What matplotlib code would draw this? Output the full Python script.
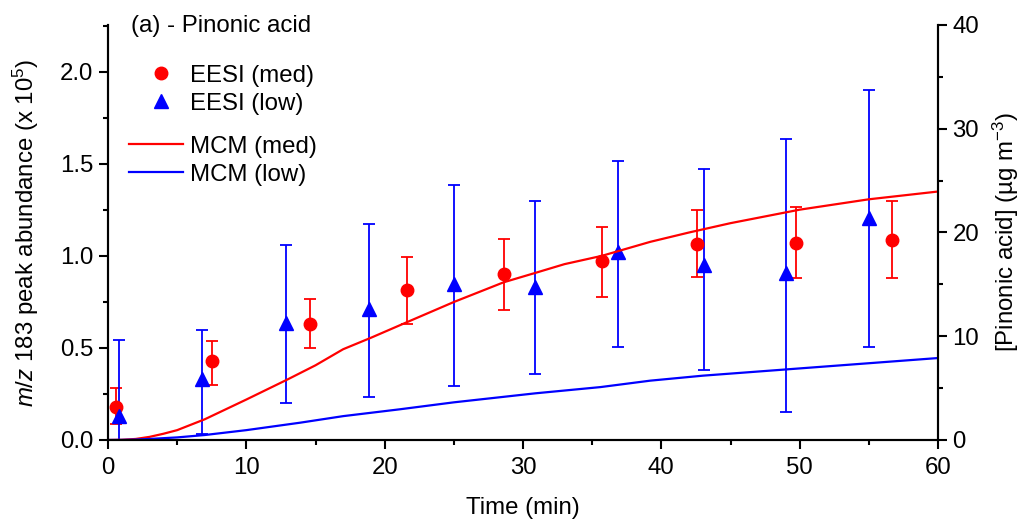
import matplotlib
matplotlib.use("Agg")
import matplotlib.pyplot as plt
from matplotlib.ticker import MultipleLocator, FormatStrFormatter
from matplotlib.lines import Line2D

plt.rcParams['font.family'] = ['Liberation Sans', 'DejaVu Sans']
plt.rcParams['mathtext.fontset'] = 'custom'
plt.rcParams['mathtext.rm'] = 'Liberation Sans'
plt.rcParams['mathtext.it'] = 'Liberation Sans:italic'

# EESI (med) - peak abundance (x 1e5)
med_t = [0.6, 7.5, 14.6, 21.6, 28.6, 35.7, 42.6, 49.7, 56.7]
med_y = [0.18, 0.43, 0.63, 0.815, 0.90, 0.97, 1.065, 1.07, 1.087]
med_hi = [0.28, 0.54, 0.765, 0.995, 1.09, 1.158, 1.25, 1.265, 1.30]
med_lo = [0.085, 0.30, 0.50, 0.632, 0.705, 0.777, 0.885, 0.88, 0.88]

# EESI (low)
low_t = [0.8, 6.8, 12.9, 18.9, 25.0, 30.9, 36.9, 43.1, 49.0, 55.0]
low_y = [0.13, 0.33, 0.635, 0.71, 0.85, 0.83, 1.02, 0.95, 0.905, 1.205]
low_hi = [0.545, 0.595, 1.06, 1.175, 1.385, 1.30, 1.518, 1.475, 1.636, 1.902]
low_lo = [0.0, 0.035, 0.20, 0.235, 0.295, 0.357, 0.505, 0.38, 0.15, 0.507]

# MCM model [Pinonic acid] (ug m-3)
mcm_t = [0, 1, 2, 3, 4, 5, 7, 10, 13, 15, 17, 18, 19, 21.6, 25, 28.6, 31, 33, 35.7, 39.2, 42, 45, 50, 55, 60]
mcm_med = [0, 0.02, 0.1, 0.3, 0.6, 0.95, 2.0, 3.9, 5.85, 7.2, 8.75, 9.3, 9.85, 11.35, 13.3, 15.2, 16.15,
           16.95, 17.75, 19.1, 20.0, 20.9, 22.2, 23.2, 23.95]
mcm_low_t = [0, 1, 2, 3, 5, 7, 10, 13.9, 17, 21.1, 25, 30.9, 35.6, 39.2, 43, 49, 55, 60]
mcm_low = [0, 0.01, 0.04, 0.1, 0.25, 0.48, 0.95, 1.67, 2.3, 2.96, 3.63, 4.5, 5.1, 5.72, 6.2, 6.8, 7.4, 7.9]

RED = '#ff0000'
BLUE = '#0000ff'
FS = 17.3

fig = plt.figure(figsize=(10.21, 5.20), dpi=100)
ax = fig.add_axes([108/1021, 80/520, 830/1021, 415/520])
ax2 = ax.twinx()

ax.errorbar(med_t, med_y,
            yerr=[[y - l for y, l in zip(med_y, med_lo)], [h - y for y, h in zip(med_y, med_hi)]],
            fmt='o', color=RED, ms=9, capsize=4, elinewidth=1.3, capthick=1.3, zorder=3)
ax.errorbar(low_t, low_y,
            yerr=[[y - l for y, l in zip(low_y, low_lo)], [h - y for y, h in zip(low_y, low_hi)]],
            fmt='^', color=BLUE, ms=10, capsize=4, elinewidth=1.3, capthick=1.3, zorder=3)

ax2.plot(mcm_t, mcm_med, color=RED, lw=1.6)
ax2.plot(mcm_low_t, mcm_low, color=BLUE, lw=1.6)

ax.set_xlim(0, 60)
ax.set_ylim(0, 2.255)
ax2.set_ylim(0, 40)

for a in (ax, ax2):
    a.spines['top'].set_visible(False)
    for s in a.spines.values():
        s.set_linewidth(1.5)
ax.xaxis.set_major_locator(MultipleLocator(10))
ax.xaxis.set_minor_locator(MultipleLocator(5))
ax.yaxis.set_major_locator(MultipleLocator(0.5))
ax.yaxis.set_minor_locator(MultipleLocator(0.25))
ax2.yaxis.set_major_locator(MultipleLocator(10))
ax2.yaxis.set_minor_locator(MultipleLocator(5))
ax.yaxis.set_major_formatter(FormatStrFormatter('%.1f'))

for a in (ax, ax2):
    a.tick_params(which='major', direction='out', length=6.5, width=1.5, labelsize=FS, pad=4)
    a.tick_params(which='minor', direction='out', length=3.5, width=1.5)
ax.tick_params(axis='x', pad=6)

ax.set_xlabel('Time (min)', fontsize=FS, labelpad=12.5)
ax.set_ylabel('$m/z$ 183 peak abundance (x 10$^5$)', fontsize=FS, labelpad=13.5)
ax2.set_ylabel('[Pinonic acid] (µg m$^{-3}$)', fontsize=FS, labelpad=8)

ax.text(0.028, 0.998, '(a) - Pinonic acid', transform=ax.transAxes, fontsize=FS,
        va='center', ha='left')

h1 = [Line2D([], [], marker='o', ls='none', color=RED, ms=9),
      Line2D([], [], marker='^', ls='none', color=BLUE, ms=10)]
leg1 = ax.legend(h1, ['EESI (med)', 'EESI (low)'], loc='upper left', bbox_to_anchor=(0.055, 0.904),
                 frameon=False, fontsize=FS, handlelength=0.6, handletextpad=0.9,
                 labelspacing=0.25, borderpad=0, borderaxespad=0)
ax.add_artist(leg1)
h2 = [Line2D([], [], color=RED, lw=1.6), Line2D([], [], color=BLUE, lw=1.6)]
ax.legend(h2, ['MCM (med)', 'MCM (low)'], loc='upper left', bbox_to_anchor=(0.025, 0.733),
          frameon=False, fontsize=FS, handlelength=2.25, handletextpad=0.3,
          labelspacing=0.25, borderpad=0, borderaxespad=0)

fig.savefig('out.png', dpi=100)
